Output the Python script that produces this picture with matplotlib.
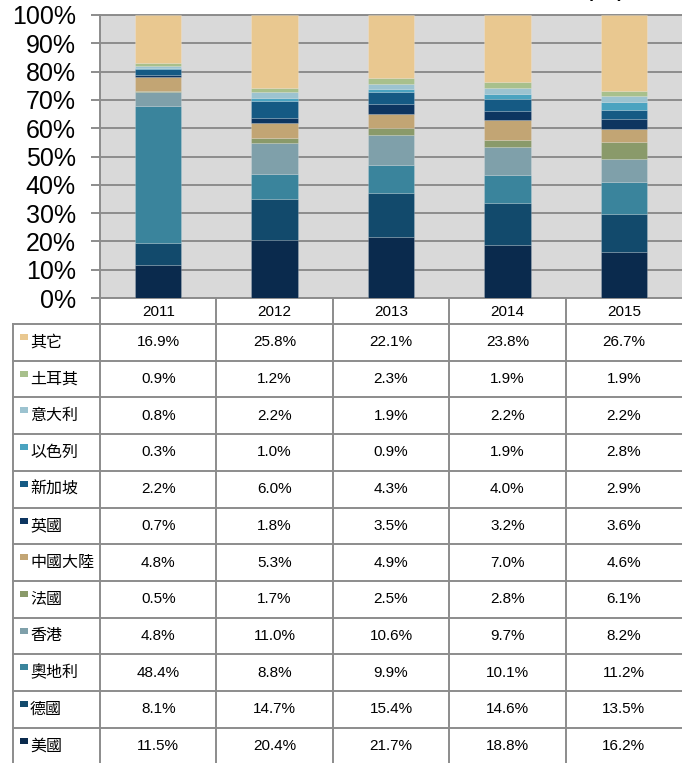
import matplotlib
matplotlib.use('Agg')
import matplotlib.pyplot as plt
import numpy as np

plt.rcParams['font.family'] = ['Liberation Sans', 'Noto Sans CJK TC', 'DejaVu Sans']

# data: years and share (%) per country, listed from bottom of stack to top
years = ['2011', '2012', '2013', '2014', '2015']
countries = ['美國', '德國', '奧地利', '香港', '法國', '中國大陸',
             '英國', '新加坡', '以色列', '意大利', '土耳其', '其它']
usa       = [11.5, 20.4, 21.7, 18.8, 16.2]
germany   = [8.1, 14.7, 15.4, 14.6, 13.5]
austria   = [48.4, 8.8, 9.9, 10.1, 11.2]
hongkong  = [4.8, 11.0, 10.6, 9.7, 8.2]
france    = [0.5, 1.7, 2.5, 2.8, 6.1]
china     = [4.8, 5.3, 4.9, 7.0, 4.6]
uk        = [0.7, 1.8, 3.5, 3.2, 3.6]
singapore = [2.2, 6.0, 4.3, 4.0, 2.9]
israel    = [0.3, 1.0, 0.9, 1.9, 2.8]
italy     = [0.8, 2.2, 1.9, 2.2, 2.2]
turkey    = [0.9, 1.2, 2.3, 1.9, 1.9]
others    = [16.9, 25.8, 22.1, 23.8, 26.7]
series = [usa, germany, austria, hongkong, france, china,
          uk, singapore, israel, italy, turkey, others]
colors = ['#0a2a4d', '#124a6c', '#3a849c', '#7fa0aa', '#8a9a6a', '#c2a574',
          '#0d3560', '#155a84', '#4aa3c0', '#9cc3d0', '#a8c08c', '#e9c890']

W, H = 682, 763
gray = '#8c8c8c'
fig = plt.figure(figsize=(W / 100, H / 100), dpi=100)

# ---- stacked bar chart
ax = fig.add_axes([100 / W, (H - 298) / H, 582 / W, 283 / H])
ax.set_facecolor('#d9d9d9')
x = np.arange(len(years))
bottom = np.zeros(len(years))
for vals, c in zip(series, colors):
    ax.bar(x, vals, 0.4, bottom=bottom, color=c, edgecolor=(1, 1, 1, 0.2), linewidth=0.6, zorder=3)
    bottom += np.array(vals)
ax.set_xlim(-0.5, 4.5)
ax.set_ylim(0, 100)
ax.set_yticks(range(0, 101, 10))
ax.set_yticklabels([f'{v}%' for v in range(0, 101, 10)], fontsize=18)
ax.set_xticks([])
ax.tick_params(axis='y', length=6.5, width=1.4, color=gray, pad=11)
ax.grid(axis='y', color=gray, linewidth=1.4, zorder=1)
ax.set_axisbelow(True)
for s in ['left', 'bottom', 'top']:
    ax.spines[s].set_color(gray)
    ax.spines[s].set_linewidth(1.4)
ax.spines['right'].set_visible(False)

# ---- data table under the chart (pixel coordinates)
tab = fig.add_axes([0, 0, 1, 1])
tab.set_xlim(0, W)
tab.set_ylim(H, 0)
tab.axis('off')
tab.patch.set_alpha(0)

left, colw = 100, 116.4
top_hdr, top_rows, rowh = 298, 324, 36.7
lw = 1.4
# vertical lines
tab.plot([left, left], [top_hdr, H], color=gray, lw=lw)
tab.plot([13, 13], [top_rows, H], color=gray, lw=lw)
for k in range(1, len(years)):
    xx = left + k * colw
    tab.plot([xx, xx], [top_hdr, H], color=gray, lw=lw)
# horizontal lines
for r in range(len(countries)):
    yy = top_rows + r * rowh
    tab.plot([13, W], [yy, yy], color=gray, lw=lw)

# header
for k, yr in enumerate(years):
    tab.text(left + (k + 0.5) * colw, (top_hdr + top_rows) / 2 + 1, yr,
             ha='center', va='center', fontsize=11)

# rows, top to bottom is reverse of stacking order
for r, idx in enumerate(range(len(countries) - 1, -1, -1)):
    y0 = top_rows + r * rowh
    yc = y0 + rowh / 2
    tab.add_patch(plt.Rectangle((20, y0 + 10), 8, 6, color=colors[idx], lw=0))
    tab.text(30, yc, countries[idx], ha='left', va='center', fontsize=11.5)
    for k in range(len(years)):
        tab.text(left + (k + 0.5) * colw, yc, f'{series[idx][k]:.1f}%',
                 ha='center', va='center', fontsize=11)

# title remnant cut off at the top edge
fig.text(605 / W, 1 + 5 / H, '(%)', ha='center', va='baseline', fontsize=20)

fig.savefig('out.png', dpi=100)
